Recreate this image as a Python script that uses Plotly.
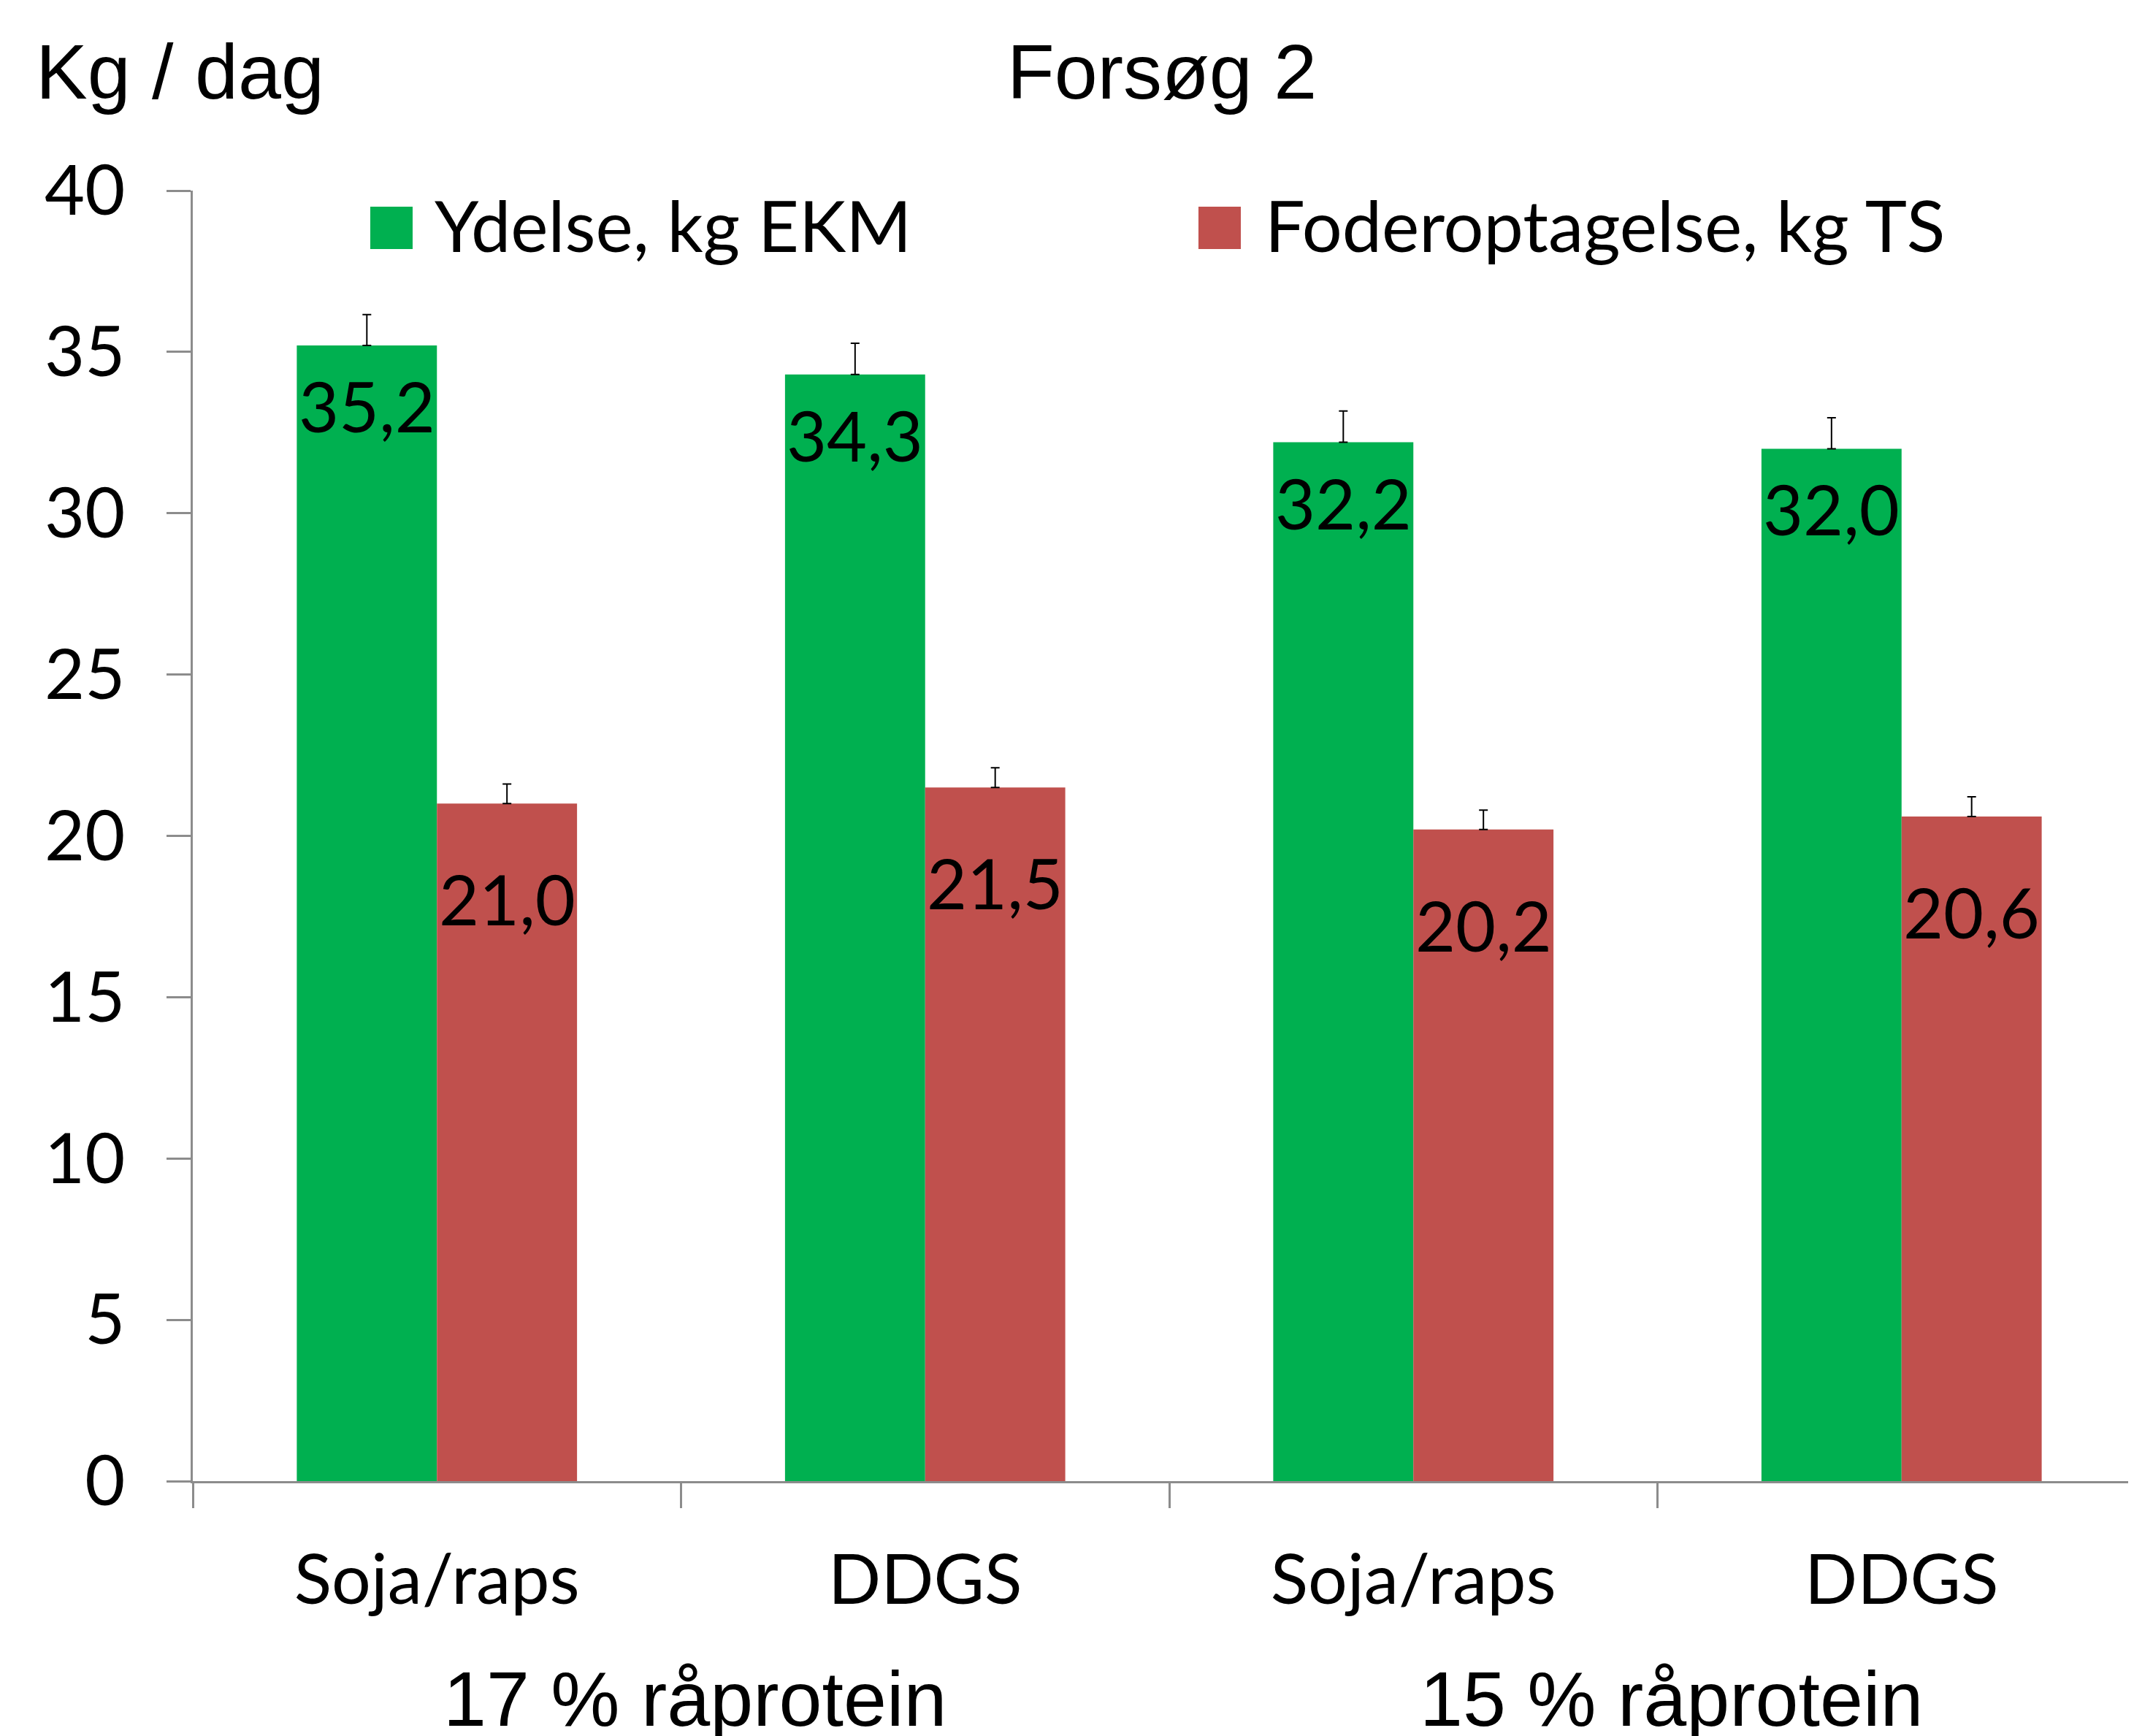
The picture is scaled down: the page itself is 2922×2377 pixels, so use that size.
import plotly.graph_objects as go

# ---- data ----
categories = ["Soja/raps", "DDGS", "Soja/raps ", "DDGS "]
category_labels = ["Soja/raps", "DDGS", "Soja/raps", "DDGS"]
group_labels = ["17 % råprotein", "15 % råprotein"]
series_names = ["Ydelse, kg EKM", "Foderoptagelse, kg TS"]
ydelse = [35.2, 34.3, 32.2, 32.0]
foder = [21.0, 21.5, 20.2, 20.6]
ydelse_err = [0.96, 0.97, 0.97, 0.96]
foder_err = [0.61, 0.61, 0.6, 0.61]
y_ticks = [0, 5, 10, 15, 20, 25, 30, 35, 40]

# ---- style ----
W, H = 2922, 2377
OFF = 8  # page body margin
L, T = 264 - OFF, 261 - OFF
R = OFF
B = H - (2028 - OFF)
PW, PH = W - L - R, H - T - B
GREEN = "#00B050"
RED = "#C0504D"
AXIS = "#8c8c8c"
CAL = "Lato"
ARI = "Liberation Sans"
FS_CAL = 95
FS_LEG = 97
FS_ARI = 106


def px(x):
    return (x - OFF - L) / PW


def py(y):
    return 1 - (y - OFF - T) / PH


def fmt(v):
    return f"{v:.1f}".replace(".", ",")


fig = go.Figure()
for name, vals, err, col in [
    (series_names[0], ydelse, ydelse_err, GREEN),
    (series_names[1], foder, foder_err, RED),
]:
    fig.add_trace(go.Bar(
        x=categories, y=vals, name=name,
        marker=dict(color=col, line=dict(width=0)),
        error_y=dict(type="data", array=err, arrayminus=[0] * len(err),
                     symmetric=False, color="black", thickness=2, width=6),
        showlegend=False,
    ))

# data labels (inside end)
for i, c in enumerate(categories):
    fig.add_annotation(x=c, y=ydelse[i], xref="x", yref="y", text=fmt(ydelse[i]),
                       showarrow=False, xshift=-96, yshift=-82, yanchor="middle",
                       font=dict(family=CAL, size=FS_CAL, color="black"))
    fig.add_annotation(x=c, y=foder[i], xref="x", yref="y", text=fmt(foder[i]),
                       showarrow=False, xshift=96, yshift=-130, yanchor="middle",
                       font=dict(family=CAL, size=FS_CAL, color="black"))

# group labels
for gi, g in enumerate(group_labels):
    fig.add_annotation(x=2 * gi + 0.5, y=py(2326), xref="x", yref="paper", text=g,
                       showarrow=False, xshift=19, yanchor="middle",
                       font=dict(family=ARI, size=FS_ARI, color="black"))

# titles
fig.add_annotation(x=px(47), y=py(98), xref="paper", yref="paper", text="Kg / dag",
                   showarrow=False, xanchor="left", yanchor="middle",
                   font=dict(family=ARI, size=FS_ARI, color="black"))
fig.add_annotation(x=px(1591), y=py(98), xref="paper", yref="paper", text="Forsøg 2",
                   showarrow=False, xanchor="center", yanchor="middle",
                   font=dict(family=ARI, size=FS_ARI, color="black"))

# legend (manual)
for (x0, tx), name, col in [((507, 593), series_names[0], GREEN), ((1641, 1730), series_names[1], RED)]:
    fig.add_shape(type="rect", xref="paper", yref="paper", x0=px(x0), x1=px(x0 + 58),
                  y0=py(341), y1=py(283), fillcolor=col, line=dict(width=0))
    fig.add_annotation(x=px(tx), y=py(307), xref="paper", yref="paper", text=name,
                       showarrow=False, xanchor="left", yanchor="middle",
                       font=dict(family=CAL, size=FS_LEG, color="black"))

fig.update_layout(
    width=W, height=H,
    margin=dict(l=L, r=R, t=T, b=B, pad=0),
    paper_bgcolor="white", plot_bgcolor="white",
    barmode="group", bargap=0.426, bargroupgap=0,
    showlegend=False,
    xaxis=dict(
        range=[-0.5, -0.5 + PW / 668.5],
        tickmode="array", tickvals=categories, ticktext=category_labels,
        tickson="boundaries", ticks="outside", ticklen=34, tickwidth=2.5,
        tickcolor=AXIS, showline=True, linecolor=AXIS, linewidth=2.5,
        showgrid=False, zeroline=False,
        tickfont=dict(family=CAL, size=FS_CAL, color="black"),
        ticklabelstandoff=51,
    ),
    yaxis=dict(
        range=[0, 40], tickvals=y_ticks,
        ticks="outside", ticklen=33, tickwidth=2.5, tickcolor=AXIS,
        showline=True, linecolor=AXIS, linewidth=2.5,
        showgrid=False, zeroline=False,
        tickfont=dict(family=CAL, size=FS_CAL, color="black"),
        ticklabelstandoff=38,
    ),
)

fig.write_html("out.html")
